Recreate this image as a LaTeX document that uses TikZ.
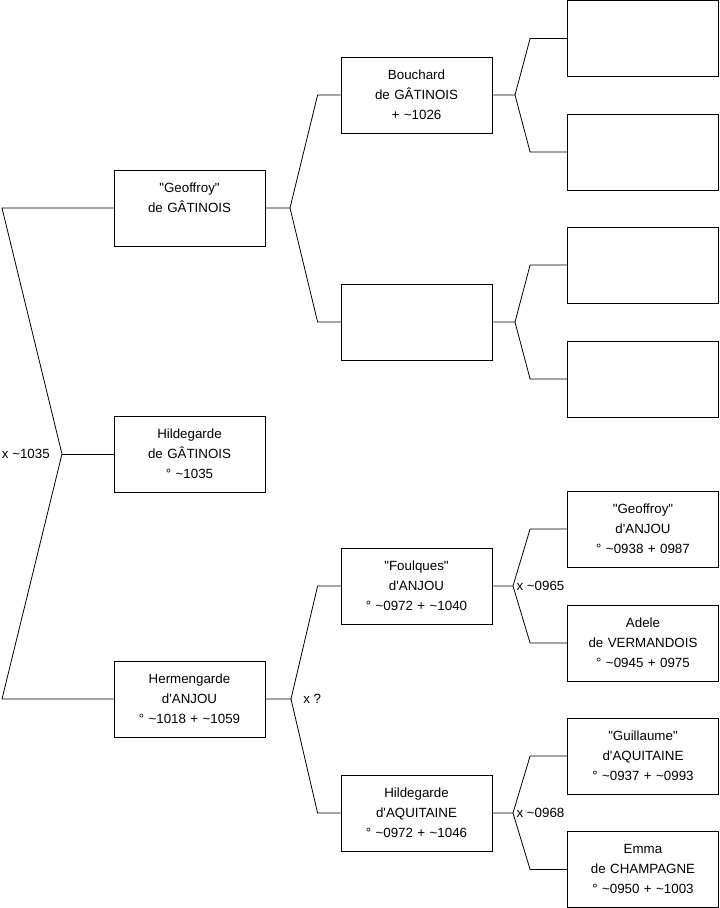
\documentclass[tikz,border=0pt]{standalone}
\usepackage{fontspec}
\setmainfont{Liberation Sans}
\usepackage{tikz}
\usetikzlibrary{positioning}
\newcommand{\ca}{\textasciitilde}
\newcommand{\dq}{\textquotedbl}
\newcommand{\sq}{\textquotesingle}

\begin{document}
\begin{tikzpicture}[x=0.75pt,y=-0.75pt,
    person/.style={draw, line width=0.6pt, minimum width=113.25pt, minimum height=57pt,
        inner sep=0pt, text width=110pt, align=center,
        font=\fontsize{10}{15}\selectfont,
        execute at begin node=\strut, execute at end node=\strut},
    tie/.style={line width=0.6pt},
    union/.style={inner sep=0pt, font=\fontsize{10}{15}\selectfont}]
    \useasboundingbox (0,0) rectangle (719,908);

    % first generation
    \node[person] (geoffroy) at (189.5,208) {\dq Geoffroy\dq\\de GÂTINOIS\\};
    \node[person] (hildegarde) at (189.5,454) {Hildegarde\\de GÂTINOIS\\° \ca1035};
    \node[person] (hermengarde) at (189.5,699) {Hermengarde\\d\sq ANJOU\\° \ca1018 + \ca1059};

    % second generation
    \node[person] (bouchard) at (416.5,95) {Bouchard\\de GÂTINOIS\\+ \ca1026};
    \node[person] (unknown) at (416.5,322) {};
    \node[person] (foulques) at (416.5,586) {\dq Foulques\dq\\d\sq ANJOU\\° \ca0972 + \ca1040};
    \node[person] (hildaq) at (416.5,813) {Hildegarde\\d\sq AQUITAINE\\° \ca0972 + \ca1046};

    % third generation
    \node[person] (e1) at (643,38.5) {};
    \node[person] (e2) at (643,152) {};
    \node[person] (e3) at (643,265) {};
    \node[person] (e4) at (643,379) {};
    \node[person] (geoffanjou) at (643,529) {\dq Geoffroy\dq\\d\sq ANJOU\\° \ca0938 + 0987};
    \node[person] (adele) at (643,643) {Adele\\de VERMANDOIS\\° \ca0945 + 0975};
    \node[person] (guillaume) at (643,756) {\dq Guillaume\dq\\d\sq AQUITAINE\\° \ca0937 + \ca0993};
    \node[person] (emma) at (643,869.5) {Emma\\de CHAMPAGNE\\° \ca0950 + \ca1003};

    % junctions
    \coordinate (j0) at (62,454);
    \coordinate (j1) at (290,208);
    \coordinate (j2) at (291,699);
    \coordinate (j3) at (515,95);
    \coordinate (j4) at (515,322);
    \coordinate (j5) at (513,586);
    \coordinate (j6) at (513,813);

    % marriages
    \node[union, anchor=east] (u0) at ([xshift=-9pt]j0) {x \ca1035};
    \node[union, anchor=west] (u2) at ([xshift=9pt]j2) {x ?};
    \node[union, anchor=west] (u5) at ([xshift=2.5pt]j5) {x \ca0965};
    \node[union, anchor=west] (u6) at ([xshift=2.5pt]j6) {x \ca0968};

    % links
    \draw[tie] (geoffroy) -- (2,208) -- (j0) -- (2,699) -- (hermengarde);
    \draw[tie] (j0) -- (hildegarde);

    \draw[tie] (geoffroy) -- (j1) -- ([xshift=-17.25pt]bouchard.west) -- (bouchard);
    \draw[tie] (j1) -- ([xshift=-17.25pt]unknown.west) -- (unknown);
    \draw[tie] (hermengarde) -- (j2) -- ([xshift=-17.25pt]foulques.west) -- (foulques);
    \draw[tie] (j2) -- ([xshift=-17.25pt]hildaq.west) -- (hildaq);

    \draw[tie] (bouchard) -- (j3) -- ([xshift=-27.75pt]e1.west) -- (e1);
    \draw[tie] (j3) -- ([xshift=-27.75pt]e2.west) -- (e2);
    \draw[tie] (unknown) -- (j4) -- ([xshift=-27.75pt]e3.west) -- (e3);
    \draw[tie] (j4) -- ([xshift=-27.75pt]e4.west) -- (e4);
    \draw[tie] (foulques) -- (j5) -- ([xshift=-27.75pt]geoffanjou.west) -- (geoffanjou);
    \draw[tie] (j5) -- ([xshift=-27.75pt]adele.west) -- (adele);
    \draw[tie] (hildaq) -- (j6) -- ([xshift=-27.75pt]guillaume.west) -- (guillaume);
    \draw[tie] (j6) -- ([xshift=-27.75pt]emma.west) -- (emma);
\end{tikzpicture}
\end{document}
